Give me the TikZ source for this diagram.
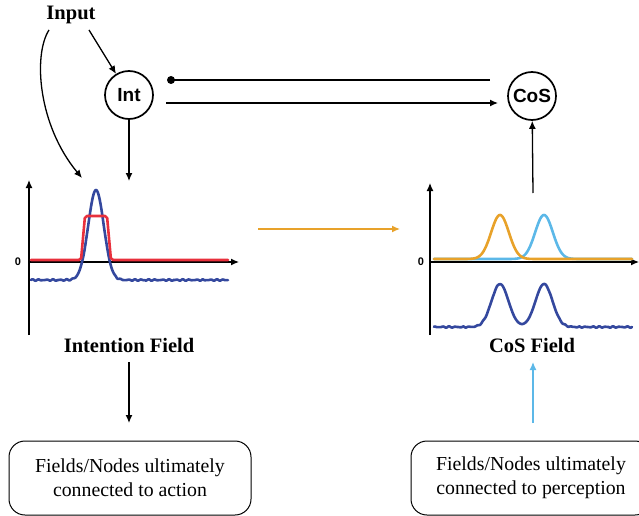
\documentclass[tikz,border=0pt]{standalone}
\usepackage{fontspec}
\setmainfont{Liberation Serif}
\newfontfamily\labelsans{Liberation Sans}
\usetikzlibrary{arrows.meta}
\definecolor{fieldblue}{RGB}{52,72,158}
\definecolor{fieldred}{RGB}{232,48,60}
\definecolor{fieldorange}{RGB}{232,162,42}
\definecolor{fieldlight}{RGB}{92,184,232}
\tikzset{
  arr/.style={line width=1.3pt,-{Latex[length=8pt,width=7pt]}},
  plain/.style={line width=1.3pt},
  unit/.style={circle,draw,line width=1.7pt,minimum size=48pt,inner sep=0pt,font=\labelsans\bfseries\fontsize{19}{21}\selectfont},
  title/.style={font=\bfseries\fontsize{20.5}{24}\selectfont},
  zerolbl/.style={font=\labelsans\bfseries\fontsize{11}{12}\selectfont},
  endbox/.style={draw,line width=1pt,rounded corners=16pt,minimum width=242pt,minimum height=74pt,align=center,font=\fontsize{19.8}{24}\selectfont},
  curve/.style={line width=2.6pt,line join=round,line cap=round}
}
% smooth bump used by the field curves
\pgfmathdeclarefunction{bump}{3}{%
  \pgfmathparse{exp(-min(((#1-#2)/#3)^2,14))}%
}
% small jitter on the resting level
\pgfmathdeclarefunction{jitter}{1}{%
  \pgfmathparse{0.45*sin(mod(#1,41)*53) + 0.3*sin(mod(#1,29)*71)}%
}
\begin{document}
\begin{tikzpicture}[x=1pt,y=-1pt]
\useasboundingbox (0,0) rectangle (639,516);

% nodes
\node[title] (input) at (71,15) {Input};
\node[unit] (int) at (129,95) {Int};
\node[unit] (cos) at (532,96) {CoS};
\node[title] (intlabel) at (129,345) {Intention Field};
\node[title] (coslabel) at (532,345) {CoS Field};
\node[endbox] (action) at (130,478) {Fields/Nodes ultimately\\connected to action};
\node[endbox,minimum width=240pt] (percept) at (531,478) {Fields/Nodes ultimately\\connected to perception};

% free ends of connectors
\coordinate (inA) at (49,30);
\coordinate (inB) at (89,30);
\coordinate (intTop) at (82,178);
\coordinate (intDown) at (129,181);
\coordinate (dotStart) at (171,80);
\coordinate (dotEnd) at (490,80);
\coordinate (fwdStart) at (166,103);
\coordinate (fwdEnd) at (498,103);
\coordinate (cosUp) at (533,193);
\coordinate (orA) at (258,229);
\coordinate (orB) at (400,229);
\coordinate (intOut) at (129,362);
\coordinate (actIn) at (129,423);
\coordinate (perOut) at (533,423);
\coordinate (cosIn) at (533,362);

% connectors
\draw[arr] (inB) -- (int);
\draw[arr] (inA) .. controls (33,55) and (38,125) .. (intTop);
\draw[arr] (int) -- (intDown);
\fill (dotStart) circle (4pt);
\draw[plain] (dotStart) -- (dotEnd);
\draw[arr] (fwdStart) -- (fwdEnd);
\draw[arr] (cosUp) -- (cos);
\draw[arr,fieldorange] (orA) -- (orB);
\draw[arr] (intOut) -- (actIn);
\draw[arr,fieldlight] (perOut) -- (cosIn);

% intention field plot
\draw[plain,-{Latex[length=8pt,width=7pt]}] (29,335) -- (29,180);
\draw[plain,-{Latex[length=8pt,width=7pt]}] (29,262) -- (239,262);
\node[zerolbl] (zeroL) at (18,262) {0};
\draw[curve,fieldblue] plot[domain=31:228,samples=300]
  (\x,{280 + (1-bump(\x,96,14))*jitter(\x) - 90*bump(\x,96,11)});
\draw[curve,fieldred,rounded corners=2pt]
  (31,260) -- (81,260) -- (85,216) -- (107,216) -- (111,260) -- (228,260);

% CoS field plot
\draw[plain,-{Latex[length=8pt,width=7pt]}] (430,335) -- (430,183);
\draw[plain,-{Latex[length=8pt,width=7pt]}] (430,262) -- (639,262);
\node[zerolbl] (zeroR) at (421,262) {0};
\draw[curve,fieldlight] plot[domain=434:632,samples=300]
  (\x,{259 - 44*bump(\x,544,12.5)});
\draw[curve,fieldorange] plot[domain=434:632,samples=300]
  (\x,{259 - 44*bump(\x,500,12.5)});
\draw[curve,fieldblue] plot[domain=434:632,samples=300]
  (\x,{327 + (1-bump(\x,522,34))*jitter(\x) - 43*bump(\x,500,12) - 43*bump(\x,544,12)});
\end{tikzpicture}
\end{document}
